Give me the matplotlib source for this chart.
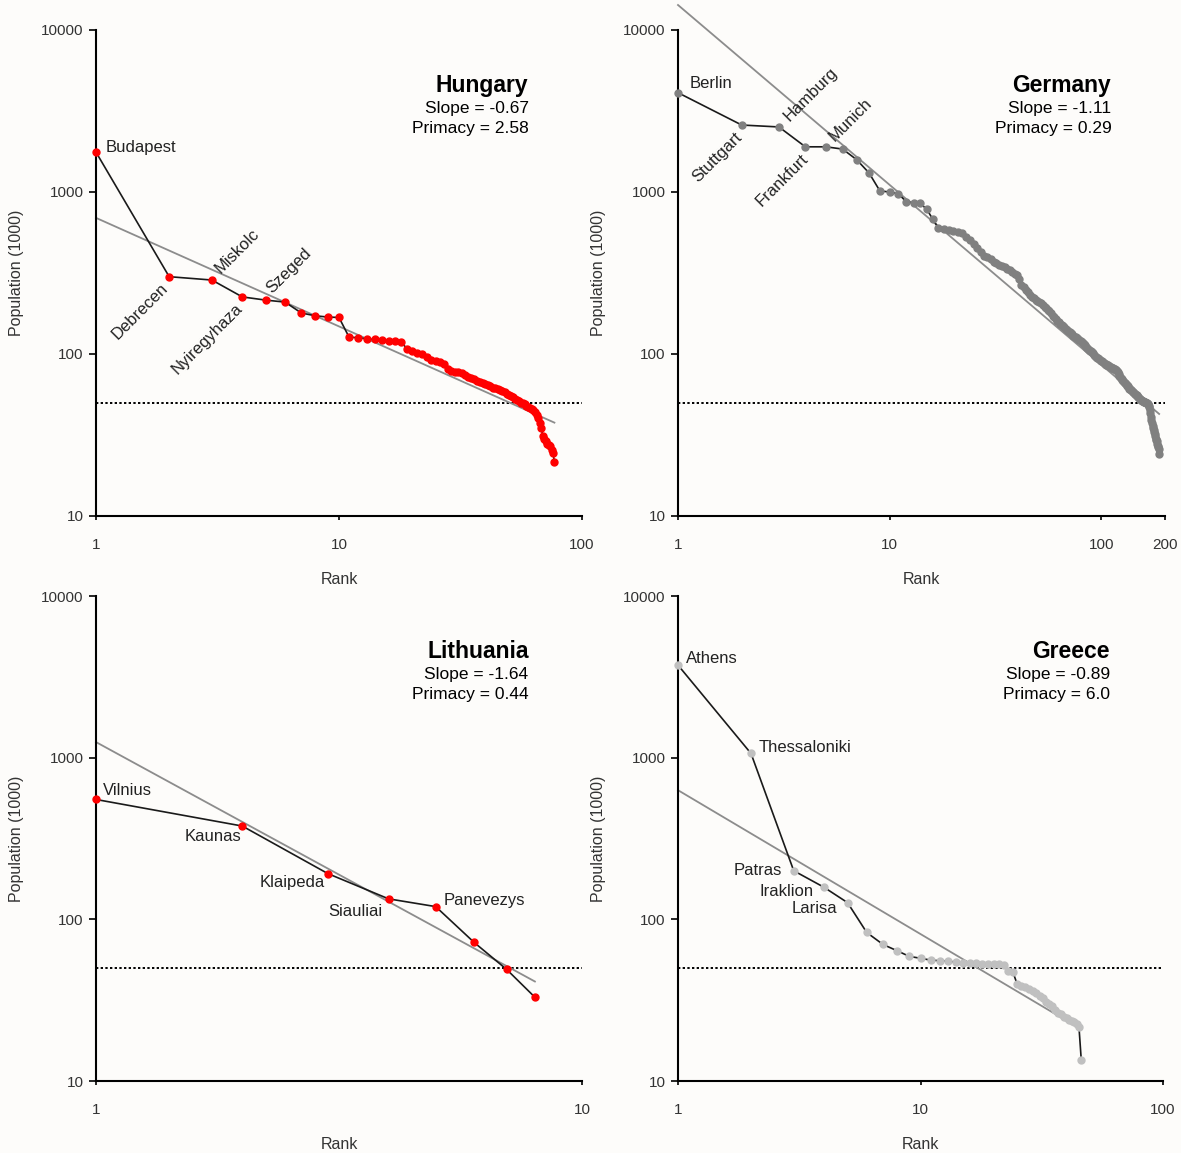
import matplotlib
matplotlib.use("Agg")
import matplotlib.pyplot as plt
from matplotlib.ticker import FixedLocator, FixedFormatter, NullLocator
import numpy as np

plt.rcParams['font.family'] = ['Liberation Sans', 'DejaVu Sans']

# Hungary
hu_pop = [1760, 300, 286, 225, 215, 209, 179, 172, 169, 168,
          127, 126, 124, 123, 122, 121, 120, 119, 108, 104,
          102, 100, 96, 92, 91, 89, 87, 81, 78, 77,
          77, 76, 74, 72, 71, 70, 68, 67, 66, 65,
          64, 63, 62, 62, 61, 60, 59, 58, 57, 56,
          55, 54, 53, 52, 51, 50, 49.5, 49, 48, 47,
          46.5, 46, 45, 44, 42, 40, 37.5, 35, 31, 30,
          29, 28, 27.5, 27, 25.5, 24.5, 21.5]
hu_fit = (692, -0.67)

# Germany
de_pop = [4100, 2590, 2520, 1900, 1900, 1840, 1580, 1310, 1015, 1000,
          975, 870, 860, 850, 780, 680, 600, 590, 585, 575,
          568, 555, 530, 505, 480, 450, 425, 405, 395, 385,
          372, 365, 355, 348, 342, 336, 328, 320, 312, 306,
          290, 268, 258, 250, 240, 232, 226, 220, 216, 213,
          210, 205, 200, 196, 192, 188, 183, 178, 172, 168,
          164, 160, 157, 154, 151, 148, 146, 143, 141, 139,
          136, 134, 132, 130, 128, 127, 125, 123, 122, 121,
          119, 117, 115, 113, 111, 109, 108, 106, 105, 104,
          103, 101, 99, 97, 96, 95, 94, 93, 92, 91,
          90, 89, 88, 87, 86.5, 86, 85.5, 85, 84, 83.5,
          83, 82.5, 82, 81.5, 81, 80.5, 80, 79.5, 79, 77,
          75, 73, 72, 71, 70, 69, 68, 67, 66.5, 66,
          65, 64, 63.5, 63, 62, 61, 60.5, 60, 59.5, 59,
          58.5, 58, 57.5, 57, 56.5, 56, 55.5, 55, 54.5, 54,
          53.5, 53, 52.5, 52, 51.8, 51.5, 51.2, 51, 50.8, 50.6,
          50.4, 50.2, 50, 49.8, 49.6, 49.3, 49, 48, 47, 45,
          43, 41, 39, 37.5, 36, 35, 34, 33, 32, 31,
          30, 29.5, 29, 28, 27, 26.5, 26, 24]
de_fit = (14260, -1.11)

# Lithuania
lt_pop = [552, 378, 192, 134, 120, 72, 49, 33]
lt_fit = (1250, -1.64)

# Greece
gr_pop = [3740, 1063, 200, 158, 127, 83, 70, 64, 59, 57.5,
          56, 55.5, 55, 54.5, 54, 53.8, 53.5, 53.3, 53, 53,
          52.8, 52.5, 48, 47.5, 40, 38.5, 38, 37, 36, 35,
          33.5, 32.5, 31, 30, 29, 27.5, 26.5, 26, 25, 24.5,
          23.8, 23.5, 23.3, 22.5, 21.7, 13.5]
gr_fit = (630, -0.89)

# label: (name, rank, dx px, dy px, ha, rotation)
hu_labels = [("Budapest", 1, 10, 5, 'left', 0),
             ("Debrecen", 2, -4, -9, 'right', 45),
             ("Miskolc", 3, 5, 9, 'left', 45),
             ("Nyiregyhaza", 4, -2, -9, 'right', 45),
             ("Szeged", 5, 3, 9, 'left', 45)]
de_labels = [("Berlin", 1, 12, 9, 'left', 0),
             ("Hamburg", 3, 7, 8, 'left', 45),
             ("Stuttgart", 2, -2, -10, 'right', 45),
             ("Frankfurt", 4, 0, -10, 'right', 45),
             ("Munich", 5, 6, 8, 'left', 45)]
lt_labels = [("Vilnius", 1, 7, 9, 'left', 0),
             ("Kaunas", 2, -1, -10, 'right', 0),
             ("Klaipeda", 3, -3, -9, 'right', 0),
             ("Siauliai", 4, -6, -13, 'right', 0),
             ("Panevezys", 5, 8, 6, 'left', 0)]
gr_labels = [("Athens", 1, 8, 7, 'left', 0),
             ("Thessaloniki", 2, 8, 6, 'left', 0),
             ("Patras", 3, -12, 0, 'right', 0),
             ("Iraklion", 4, -10, -4, 'right', 0),
             ("Larisa", 5, -10, -6, 'right', 0)]

bg = '#fdfcfa'
fig = plt.figure(figsize=(11.81, 11.53), dpi=100, facecolor=bg)


def panel(rect, pop, fit, labels, name, slope, primacy, color, xmax, xticks):
    ax = fig.add_axes(rect, facecolor=bg)
    rank = np.arange(1, len(pop) + 1)
    ax.set_xscale('log')
    ax.set_yscale('log')
    ax.set_xlim(1, xmax)
    ax.set_ylim(10, 10000)

    ax.axhline(50, color='black', ls=(0, (1.2, 1.2)), lw=1.4, zorder=1)
    fr = np.array([1, len(pop)])
    ax.plot(fr, fit[0] * fr ** fit[1], color='#8c8c8c', lw=1.3, zorder=2,
            clip_on=False)
    ax.plot(rank, pop, color='#1a1a1a', lw=1.2, zorder=3)
    ax.plot(rank, pop, 'o', color=color, ms=5, mec=color, zorder=4,
            clip_on=False)

    for lab, r, dx, dy, ha, rot in labels:
        ax.annotate(lab, (r, pop[r - 1]), xytext=(dx, dy),
                    textcoords='offset pixels', ha=ha, va='center',
                    rotation=rot, rotation_mode='anchor', fontsize=12,
                    color='#222222')

    ax.text(0.89, 0.885, name, transform=ax.transAxes, ha='right',
            va='center', fontsize=16.5, fontweight='bold')
    ax.text(0.89, 0.838, f"Slope = {slope}", transform=ax.transAxes,
            ha='right', va='center', fontsize=12.5)
    ax.text(0.89, 0.797, f"Primacy = {primacy}", transform=ax.transAxes,
            ha='right', va='center', fontsize=12.5)

    for s in ['top', 'right']:
        ax.spines[s].set_visible(False)
    for s in ['left', 'bottom']:
        ax.spines[s].set_linewidth(1.5)
    ax.yaxis.set_major_locator(FixedLocator([10, 100, 1000, 10000]))
    ax.yaxis.set_major_formatter(FixedFormatter(['10', '100', '1000', '10000']))
    ax.xaxis.set_major_locator(FixedLocator(xticks))
    ax.xaxis.set_major_formatter(FixedFormatter([str(t) for t in xticks]))
    ax.xaxis.set_minor_locator(NullLocator())
    ax.yaxis.set_minor_locator(NullLocator())
    ax.tick_params(axis='y', length=5, width=1.2, pad=4, labelsize=11,
                   labelcolor='#333333')
    ax.tick_params(axis='x', length=3, width=1.2, pad=13, labelsize=11,
                   labelcolor='#333333')
    ax.set_xlabel("Rank", fontsize=11.5, color='#333333', labelpad=14)
    ax.set_ylabel("Population (1000)", fontsize=11.5, color='#333333',
                  labelpad=12)
    return ax


panel([0.0813, 0.5525, 0.4115, 0.4215], hu_pop, hu_fit, hu_labels,
      "Hungary", "-0.67", "2.58", '#ff0000', 100, [1, 10, 100])
panel([0.5741, 0.5525, 0.4122, 0.4215], de_pop, de_fit, de_labels,
      "Germany", "-1.11", "0.29", '#808080', 200, [1, 10, 100, 200])
panel([0.0813, 0.0624, 0.4115, 0.4206], lt_pop, lt_fit, lt_labels,
      "Lithuania", "-1.64", "0.44", '#ff0000', 10, [1, 10])
panel([0.5741, 0.0624, 0.4107, 0.4206], gr_pop, gr_fit, gr_labels,
      "Greece", "-0.89", "6.0", '#c0c0c0', 100, [1, 10, 100])

fig.savefig("out.png", dpi=100, facecolor=bg)
